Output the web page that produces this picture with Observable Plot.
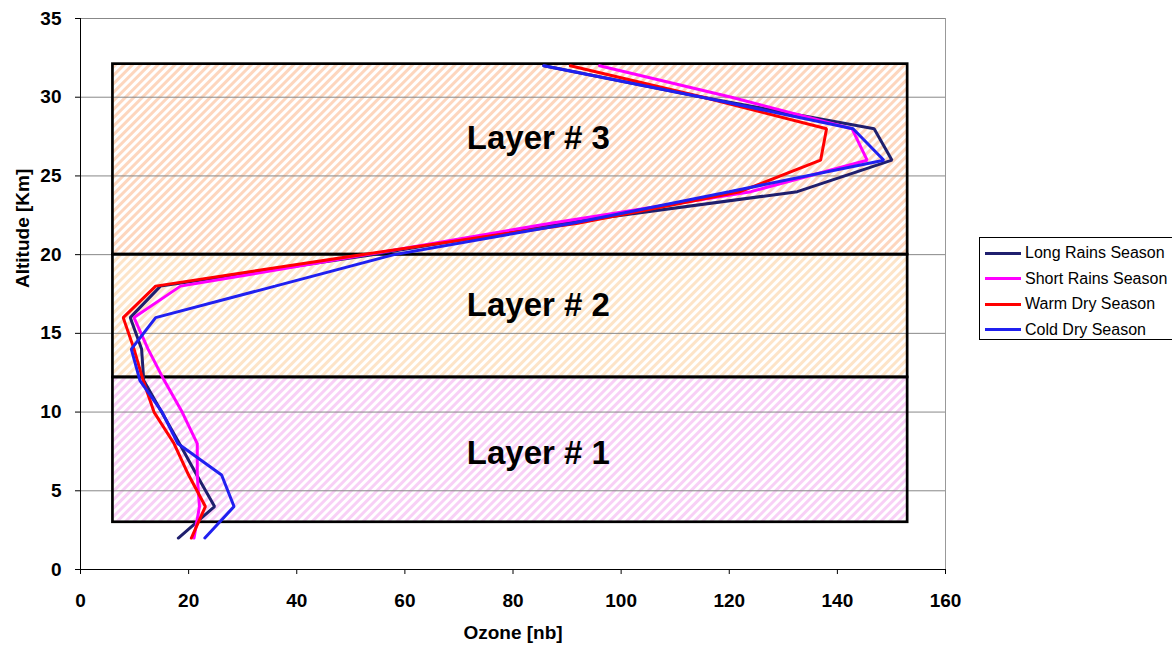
<!DOCTYPE html>
<html><head><meta charset="utf-8">
<script src="https://cdn.jsdelivr.net/npm/d3@7"></script>
<script src="https://cdn.jsdelivr.net/npm/@observablehq/plot@0.6"></script>
<style>
body{margin:0;background:#fff;font-family:"Liberation Sans",Arial,sans-serif;}
#wrap{position:relative;width:1172px;height:649px;overflow:hidden;}
#legend{position:absolute;left:979px;top:237px;width:210px;height:103px;border:1px solid #000;box-sizing:border-box;background:#fff;}
.item{position:absolute;left:5px;height:20px;display:flex;align-items:center;font-size:16px;color:#000;white-space:nowrap;}
.swatch{width:36px;height:3px;margin-right:4px;}
</style></head><body><div id="wrap"><div id="legend"></div></div>
<script>
// ---- data ----
const altitudes = [2,4,6,8,10,12,14,16,18,20,22,24,26,28,30,32];
const longRains  = [18.1,24.8,21.5,18.3,15.0,11.7,11.3,9.2,14.8,54,89,132.6,150.1,146.8,115,85.7];
const shortRains = [21.0,22.0,21.6,21.6,18.8,15.5,12.5,9.9,18.5,53,87,124,145.5,142.7,120.4,96];
const warmDry    = [20.5,23.1,20.0,17.3,13.6,11.6,9.9,7.9,13.9,52,92,122,136.9,138,115.2,90.6];
const coldDry    = [23.0,28.4,26.1,18.0,15.1,11.0,9.4,13.9,36,58,91,120,148.6,142.9,115,85.7];
const seriesNames = ["Long Rains Season","Short Rains Season","Warm Dry Season","Cold Dry Season"];
const seriesColors = ["#1f1f6e","#ff00ff","#ff0000","#2020f0"];
const seriesValues = [longRains, shortRains, warmDry, coldDry];

const layerNames = ["Layer # 1","Layer # 2","Layer # 3"];
const layerBottom = [3, 12.2, 20];
const layerTop = [12.2, 20, 32.1];
const layerLeft = 6, layerRight = 153;
const layerLabelX = 84.7;
const layerLabelY = [7.4, 16.8, 27.4];
const hatchColors = ["#f8d0f6","#fde4c8","#fdd6be"];

const xTicks = [0,20,40,60,80,100,120,140,160];
const yTicks = [0,5,10,15,20,25,30,35];

// ---- table ----
const data = seriesNames.flatMap((s, si) => altitudes.map((a, i) => ({series: s, alt: a, ozone: seriesValues[si][i]})));
const layerIdx = layerNames.map((_, i) => i);

const chart = Plot.plot({
  width: 1172, height: 649,
  marginLeft: 80, marginRight: 227, marginTop: 18, marginBottom: 80,
  style: {fontFamily: "'Liberation Sans', Arial, sans-serif", fontSize: "19px", fontWeight: "bold", color: "#000", background: "transparent", overflow: "visible"},
  x: {domain: [0,160], label: null},
  y: {domain: [0,35], label: null},
  color: {domain: seriesNames, range: seriesColors},
  marks: [
    ...layerIdx.map(i => Plot.rect([i], {x1: layerLeft, x2: layerRight, y1: layerBottom[i], y2: layerTop[i], fill: `url(#hatch${i})`})),
    Plot.ruleY(yTicks.filter(v => v > 0), {stroke: "#888", strokeWidth: 1}),
    Plot.ruleX([160], {stroke: "#999", strokeWidth: 1}),
    ...layerIdx.map(i => Plot.rect([i], {x1: layerLeft, x2: layerRight, y1: layerBottom[i], y2: layerTop[i], fill: "none", stroke: "#000", strokeWidth: 2.7})),
    Plot.ruleX([0], {stroke: "#000", strokeWidth: 1}),
    Plot.ruleY([0], {stroke: "#000", strokeWidth: 1}),
    Plot.axisX({ticks: xTicks, tickSize: 5, tickPadding: 19, tickFormat: d => d}),
    Plot.axisY({ticks: yTicks, tickSize: 5, tickPadding: 14, tickFormat: d => d}),
    Plot.text(layerIdx, {x: layerLabelX, y: i => layerLabelY[i], text: i => layerNames[i], fontSize: 33, fontWeight: "bold"}),
    Plot.line(data, {x: "ozone", y: "alt", z: "series", stroke: "series", strokeWidth: 3, strokeLinejoin: "miter"}),
    Plot.text(["Ozone [nb]"], {frameAnchor: "bottom", dy: 69, fontSize: 19}),
    Plot.text(["Altitude [Km]"], {frameAnchor: "left", dx: -58, dy: -6, rotate: -90, fontSize: 19})
  ]
});

const ns = "http://www.w3.org/2000/svg";
const defs = document.createElementNS(ns, "defs");
defs.innerHTML = hatchColors.map((c, i) =>
  `<pattern id="hatch${i}" patternUnits="userSpaceOnUse" width="6" height="6" patternTransform="rotate(45)"><rect width="6" height="6" fill="#fff"/><rect width="3" height="6" fill="${c}"/></pattern>`
).join("");
chart.insertBefore(defs, chart.firstChild);
chart.style.position = "absolute";
chart.style.left = "0"; chart.style.top = "0";
const wrap = document.getElementById("wrap");
wrap.insertBefore(chart, wrap.firstChild);

const legend = document.getElementById("legend");
seriesNames.forEach((s, i) => {
  const it = document.createElement("div");
  it.className = "item";
  it.style.top = (5 + i * 25.5) + "px";
  const sw = document.createElement("div");
  sw.className = "swatch"; sw.style.background = seriesColors[i];
  it.appendChild(sw);
  it.appendChild(document.createTextNode(s));
  legend.appendChild(it);
});
</script></body></html>
